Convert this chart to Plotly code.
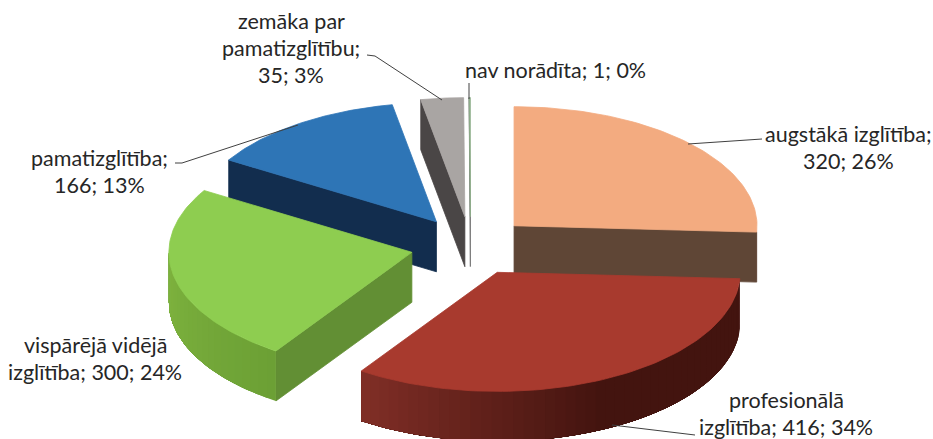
import numpy as np
import plotly.graph_objects as go

categories = ["augstākā izglītība", "profesionālā izglītība", "vispārējā vidējā izglītība",
              "pamatizglītība", "zemāka par pamatizglītību", "nav norādīta"]
values = [320, 416, 300, 166, 35, 1]
percent_labels = [26, 34, 24, 13, 3, 0]
label_lines = [
    ["augstākā izglītība;", "320; 26%"],
    ["profesionālā", "izglītība; 416; 34%"],
    ["vispārējā vidējā", "izglītība; 300; 24%"],
    ["pamatizglītība;", "166; 13%"],
    ["zemāka par", "pamatizglītību;", "35; 3%"],
    ["nav norādīta; 1; 0%"],
]
top_colors = ["#F3AB80", "#A83A2E", "#8ECD50", "#2E75B6", "#A9A5A3", "#8FB08A"]
cut_colors = ["#5F4636", "#43140F", "#628F34", "#122D4E", "#4A4646", "#6E6E6E"]
wall_near = ["#43140F", "#43140F", "#6CA035", "#122D4E", "#4A4646", "#6E6E6E"]
wall_far = ["#5F4636", "#822F27", "#7FB43F", "#122D4E", "#4A4646", "#6E6E6E"]
label_pos = [(848, 147), (786, 413), (95, 358), (99, 171), (291, 48), (555, 70)]
leaders = [
    ([688, 762], [144, 139]),
    ([612, 695], [425, 435]),
    None,
    ([298, 182, 175], [125, 163, 163]),
    ([442, 375, 367], [100, 56, 55]),
    ([469, 469], [99, 83]),
]
draw_order = [5, 4, 3, 0, 2, 1]

CX, CY, RX, RATIO, PULL, DEPTH = 470.5, 246.0, 243.0, 0.49, 60.0, 50.0
FONT = "Lato, Carlito, Calibri, sans-serif"
FONT_SIZE = 21.5
LINE_PX = 27

total = sum(values)
ends = np.cumsum(values) / total * 360.0
starts = np.concatenate([[0.0], ends[:-1]])


def hex_rgb(c):
    return np.array([int(c[i:i + 2], 16) for i in (1, 3, 5)], dtype=float)


def mix(a, b, t):
    r = hex_rgb(a) * (1 - t) + hex_rgb(b) * t
    return "rgb(%d,%d,%d)" % tuple(r.round())


def apex(i):
    m = np.radians((starts[i] + ends[i]) / 2)
    return CX + PULL * np.sin(m), CY - PULL * RATIO * np.cos(m)


def rim(ax, ay, deg):
    t = np.radians(deg)
    return ax + RX * np.sin(t), ay - RX * RATIO * np.cos(t)


fig = go.Figure()


def poly(xs, ys, color, lw=0.8):
    fig.add_trace(go.Scatter(x=list(xs), y=list(ys), mode="lines", fill="toself",
                             fillcolor=color, line=dict(color=color, width=lw),
                             hoverinfo="skip", showlegend=False))


for i in draw_order:
    ax, ay = apex(i)
    s, e = starts[i], ends[i]
    # visible cut faces
    if 180 < s < 360:
        px, py = rim(ax, ay, s)
        poly([ax, px, px, ax, ax], [ay, py, py + DEPTH, ay + DEPTH, ay], cut_colors[i])
    if 0 < e < 180:
        px, py = rim(ax, ay, e)
        poly([ax, px, px, ax, ax], [ay, py, py + DEPTH, ay + DEPTH, ay], cut_colors[i])
    # outer wall: overlapping shaded bands, each reaching to the wall's far end
    lo, hi = max(s, 90.0), min(e, 270.0)
    if hi > lo:
        n = max(2, int((hi - lo) / 2.5))
        grid = np.linspace(lo, hi, n + 1)
        for a in grid[:-1]:
            d = np.linspace(a, hi, 60)
            px, py = rim(ax, ay, d)
            t = (a - lo) / (hi - lo)
            if i == 1:
                t = max(0.0, (t - 0.5) / 0.5)
            poly(list(px) + list(px[::-1]) + [px[0]],
                 list(py) + list((py + DEPTH)[::-1]) + [py[0]],
                 mix(wall_near[i], wall_far[i], t), lw=0)
    # top face
    d = np.linspace(s, e, 80)
    px, py = rim(ax, ay, d)
    poly([ax] + list(px) + [ax], [ay] + list(py) + [ay], top_colors[i])

for path in leaders:
    if path:
        fig.add_trace(go.Scatter(x=path[0], y=path[1], mode="lines",
                                 line=dict(color="#404040", width=1),
                                 hoverinfo="skip", showlegend=False))

for lines, (lx, ly) in zip(label_lines, label_pos):
    n = len(lines)
    for k, line in enumerate(lines):
        fig.add_annotation(x=lx, y=ly + (k - (n - 1) / 2) * LINE_PX, text=line, showarrow=False,
                           xanchor="center", yanchor="middle",
                           font=dict(family=FONT, size=FONT_SIZE, color="#262626"))

fig.update_xaxes(range=[0, 933], visible=False, fixedrange=True)
fig.update_yaxes(range=[439, 0], visible=False, fixedrange=True)
fig.update_layout(width=933, height=439, margin=dict(l=0, r=0, t=0, b=0),
                  paper_bgcolor="white", plot_bgcolor="white", showlegend=False)
fig.write_html("out.html", config=dict(displayModeBar=False),
               post_script="document.body.style.margin='0';document.body.style.overflow='hidden';")
